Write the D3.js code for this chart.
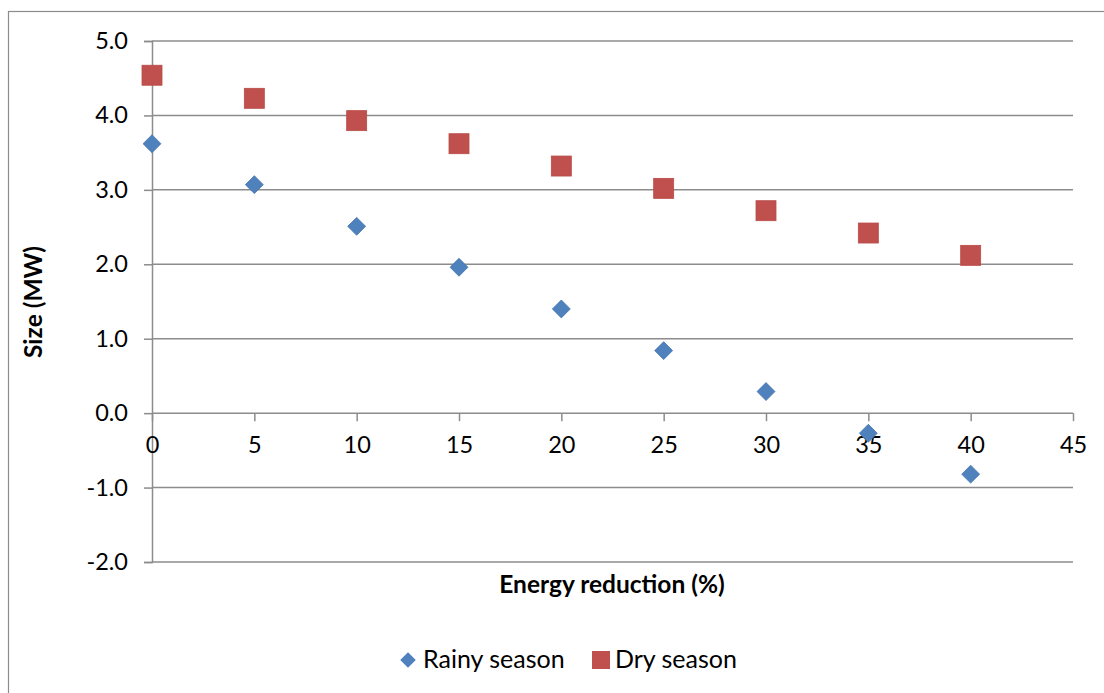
<!DOCTYPE html>
<html>
<head>
<meta charset="utf-8">
<script src="https://cdn.jsdelivr.net/npm/d3@7"></script>
<style>
  html, body { margin: 0; padding: 0; background: #fff; }
  svg { display: block; font-family: Lato, "Open Sans", sans-serif; }
</style>
</head>
<body>
<svg id="chart" width="1104" height="693"></svg>
<script>
// Energy reduction (%) on the x axis
const reduction = [0, 5, 10, 15, 20, 25, 30, 35, 40];
// Size (MW) per season
const rainySeason = [3.62, 3.07, 2.51, 1.96, 1.40, 0.84, 0.29, -0.27, -0.82];
const drySeason   = [4.54, 4.23, 3.93, 3.62, 3.32, 3.02, 2.72, 2.42, 2.12];
const xTicks = [0, 5, 10, 15, 20, 25, 30, 35, 40, 45];
const yTicks = [-2, -1, 0, 1, 2, 3, 4, 5];
const seriesNames = ["Rainy season", "Dry season"];

const svg = d3.select("#chart");
const gridColor = "#8c8c8c";
const fontSize = 23.5;

// Outer frame of the chart area
svg.append("rect")
  .attr("x", 8.5).attr("y", 11.5)
  .attr("width", 1110).attr("height", 700)
  .attr("fill", "none").attr("stroke", gridColor).attr("stroke-width", 1.2);

const x = d3.scaleLinear().domain([0, 45]).range([152, 1073]);
const y = d3.scaleLinear().domain([-2, 5]).range([562, 41]);

// Plain hyphen for negatives, one decimal
const fmtY = d => d.toFixed(1);

// Horizontal gridlines with left tick marks
const yAxis = svg.append("g").attr("transform", `translate(${x(0)},0)`)
  .call(d3.axisLeft(y).tickValues(yTicks).tickSize(8).tickPadding(16)
    .tickFormat(fmtY));
yAxis.select(".domain").attr("stroke", gridColor).attr("stroke-width", 1.5);
yAxis.selectAll(".tick line").attr("stroke", gridColor).attr("stroke-width", 1.5);
yAxis.selectAll(".tick text").attr("font-size", fontSize).attr("fill", "#000")
  .attr("font-family", "Lato, sans-serif");

svg.append("g").selectAll("line").data(yTicks).join("line")
  .attr("x1", x(0)).attr("x2", x(45))
  .attr("y1", d => y(d)).attr("y2", d => y(d))
  .attr("stroke", gridColor).attr("stroke-width", 1.5);

// X axis sits on the zero line
const xAxis = svg.append("g").attr("transform", `translate(0,${y(0)})`)
  .call(d3.axisBottom(x).tickValues(xTicks).tickSize(8).tickPadding(15)
    .tickFormat(d3.format("d")));
xAxis.select(".domain").remove();
xAxis.selectAll(".tick line").attr("stroke", gridColor).attr("stroke-width", 1.5);
xAxis.selectAll(".tick text").attr("font-size", fontSize).attr("fill", "#000")
  .attr("font-family", "Lato, sans-serif");

// Axis titles
svg.append("text")
  .attr("x", 612).attr("y", 593)
  .attr("text-anchor", "middle").attr("font-size", 24.5).attr("font-weight", "bold")
  .text("Energy reduction (%)");
svg.append("text")
  .attr("transform", `translate(42,302) rotate(-90)`)
  .attr("text-anchor", "middle").attr("font-size", 24.5).attr("font-weight", "bold")
  .text("Size (MW)");

const blue = "#4f81bd", red = "#c0504d";

// Dry season squares
svg.append("g").selectAll("rect").data(reduction).join("rect")
  .attr("x", (d) => x(d) - 10).attr("y", (d, i) => y(drySeason[i]) - 10)
  .attr("width", 20).attr("height", 20)
  .attr("fill", red).attr("stroke", "#b84b48").attr("stroke-width", 0.8);

// Rainy season diamonds
svg.append("g").selectAll("path").data(reduction).join("path")
  .attr("d", d3.symbol().type(d3.symbolSquare).size(160))
  .attr("transform", (d, i) => `translate(${x(d)},${y(rainySeason[i])}) rotate(45)`)
  .attr("fill", blue).attr("stroke", "#4677b0").attr("stroke-width", 0.8);

// Legend
const legend = svg.append("g");
legend.append("path")
  .attr("d", d3.symbol().type(d3.symbolSquare).size(120))
  .attr("transform", "translate(408,660) rotate(45)")
  .attr("fill", blue);
legend.append("text").attr("x", 423).attr("y", 668)
  .attr("font-size", 25).text(seriesNames[0]);
legend.append("rect").attr("x", 592).attr("y", 651).attr("width", 18).attr("height", 18)
  .attr("fill", red);
legend.append("text").attr("x", 615).attr("y", 668)
  .attr("font-size", 25).text(seriesNames[1]);
</script>
</body>
</html>
